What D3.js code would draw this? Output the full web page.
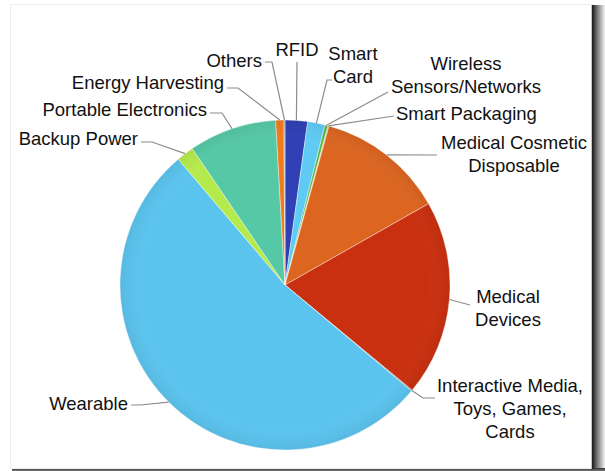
<!DOCTYPE html>
<html>
<head>
<meta charset="utf-8">
<script src="https://cdn.jsdelivr.net/npm/d3@7"></script>
<style>
  html, body { margin: 0; padding: 0; background: #ffffff; }
  svg { display: block; }
  text { font-family: "Liberation Sans", Arial, sans-serif; fill: #111; }
</style>
</head>
<body>
<svg id="chart" width="605" height="471"></svg>
<script>
// ---- data (share of market, %) in clockwise order from 12 o'clock ----
const categories = [
  "RFID", "Smart Card", "Wireless Sensors/Networks", "Smart Packaging",
  "Medical Cosmetic Disposable", "Medical Devices",
  "Interactive Media, Toys, Games, Cards", "Wearable", "Backup Power",
  "Portable Electronics", "Energy Harvesting", "Others"
];
const values = [2.2, 1.7, 0.3, 0.1, 12.5, 19.2, 0.1, 52.7, 1.7, 8.6, 0.8, 0.1];
const colors = [
  "#2f3fb4", "#5fcbf5", "#5cb84a", "#c9c27a", "#dc6520", "#c9300f",
  "#8a8a8a", "#5bc4ee", "#b5ea4c", "#55c9a6", "#f07a1e", "#9a9a9a"
];
// label text lines per category
const labelLines = [
  ["RFID"], ["Smart", "Card"], ["Wireless", "Sensors/Networks"], ["Smart Packaging"],
  ["Medical Cosmetic", "Disposable"], ["Medical", "Devices"],
  ["Interactive Media,", "Toys, Games,", "Cards"], ["Wearable"], ["Backup Power"],
  ["Portable Electronics"], ["Energy Harvesting"], ["Others"]
];

// ---- layout (positions of labels, not data) ----
const W = 605, H = 471;
const cx = 285, cy = 285, R = 165;
// label anchor: x, y of first line center, anchor, leader elbow point [x,y]
const labelLayout = [
  { x: 297, y: 50,  anchor: "middle", elbow: [297, 62] },
  { x: 353, y: 54,  anchor: "middle", elbow: [327, 80], tail: [332, 80] },
  { x: 466, y: 64,  anchor: "middle", elbow: [388, 92] },
  { x: 396, y: 114, anchor: "start",  elbow: [394, 116] },
  { x: 514, y: 143, anchor: "middle", elbow: [437, 155] },
  { x: 508, y: 297, anchor: "middle", elbow: [470, 305] },
  { x: 510, y: 386, anchor: "middle", elbow: [423, 398], tail: [435, 398] },
  { x: 128, y: 404, anchor: "end",    elbow: [140, 405], tail: [131, 405] },
  { x: 138, y: 139, anchor: "end",    elbow: [152, 142], tail: [141, 142] },
  { x: 207, y: 110, anchor: "end",    elbow: [222, 113], tail: [210, 113] },
  { x: 224, y: 83,  anchor: "end",    elbow: [238, 88],  tail: [227, 88] },
  { x: 262, y: 61,  anchor: "end",    elbow: [272, 62],  tail: [265, 62] }
];
const fontSize = 18.5, lineH = 23;

const svg = d3.select("#chart");
const defs = svg.append("defs");

// frame and shadow
const shadow = defs.append("linearGradient").attr("id", "rshadow").attr("x1", 0).attr("x2", 1).attr("y1", 0).attr("y2", 0);
shadow.append("stop").attr("offset", "0%").attr("stop-color", "#2a2a2a");
shadow.append("stop").attr("offset", "35%").attr("stop-color", "#777");
shadow.append("stop").attr("offset", "100%").attr("stop-color", "#f4f4f4");
svg.append("rect").attr("x", 593).attr("y", 5).attr("width", 12).attr("height", 466).attr("fill", "url(#rshadow)");
const bshadow = defs.append("linearGradient").attr("id", "bshadow").attr("x1", 0).attr("x2", 0).attr("y1", 0).attr("y2", 1);
bshadow.append("stop").attr("offset", "0%").attr("stop-color", "#333");
bshadow.append("stop").attr("offset", "100%").attr("stop-color", "#777");
svg.append("rect").attr("x", 12).attr("y", 468).attr("width", 593).attr("height", 3).attr("fill", "url(#bshadow)");
svg.append("rect").attr("x", 10.5).attr("y", 4.5).attr("width", 582).attr("height", 464)
  .attr("fill", "#ffffff").attr("stroke", "#ececec").attr("stroke-width", 1);
svg.append("line").attr("x1", 592.5).attr("x2", 592.5).attr("y1", 5).attr("y2", 469)
  .attr("stroke", "#222").attr("stroke-width", 1.5);

// pie
const data = categories.map((c, i) => ({ name: c, value: values[i], i }));
const pie = d3.pie().value(d => d.value).sort(null);
const arcs = pie(data);
const arc = d3.arc().innerRadius(0).outerRadius(R);
const edge = d3.arc().innerRadius(R).outerRadius(R);

const g = svg.append("g").attr("transform", `translate(${cx},${cy})`);
g.selectAll("path.slice").data(arcs).join("path")
  .attr("class", "slice")
  .attr("d", arc)
  .attr("fill", d => colors[d.data.i])
  .attr("stroke", "#ffffff")
  .attr("stroke-width", 0.4);

// subtle shading overlay
const shade = defs.append("radialGradient").attr("id", "shade")
  .attr("cx", cx).attr("cy", cy).attr("r", R).attr("gradientUnits", "userSpaceOnUse");
shade.append("stop").attr("offset", "0%").attr("stop-color", "#fff").attr("stop-opacity", 0.0);
shade.append("stop").attr("offset", "85%").attr("stop-color", "#fff").attr("stop-opacity", 0.0);
shade.append("stop").attr("offset", "100%").attr("stop-color", "#000").attr("stop-opacity", 0.06);
svg.append("circle").attr("cx", cx).attr("cy", cy).attr("r", R).attr("fill", "url(#shade)");

// leaders and labels
const lab = svg.append("g");
arcs.forEach((d, k) => {
  const L = labelLayout[k];
  const p = edge.centroid(d);
  const px = cx + p[0], py = cy + p[1];
  const pts = [[px, py], L.elbow];
  if (L.tail) pts.push(L.tail);
  lab.append("path")
    .attr("d", d3.line()(pts))
    .attr("fill", "none")
    .attr("stroke", "#8c8c8c")
    .attr("stroke-width", 1.2);
  const t = lab.append("text")
    .attr("text-anchor", L.anchor)
    .attr("font-size", fontSize);
  labelLines[k].forEach((line, j) => {
    t.append("tspan").attr("x", L.x).attr("y", L.y + j * lineH).attr("dy", "0.35em").text(line);
  });
});
</script>
</body>
</html>
